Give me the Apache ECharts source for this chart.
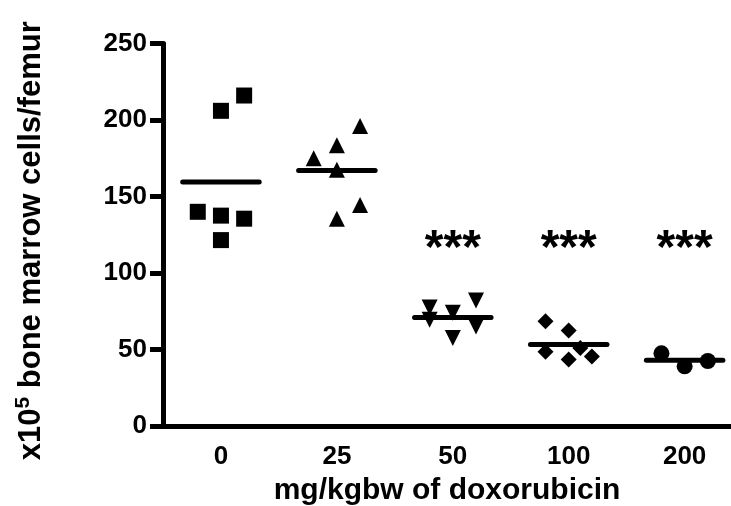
<!DOCTYPE html>
<html lang="en">
<head>
    <meta charset="UTF-8">
    <title>bone marrow cells vs doxorubicin</title>
    <script src="https://cdn.jsdelivr.net/npm/echarts@6/dist/echarts.min.js"></script>
</head>
<body style="margin:0;background:#fff;">
<div id="main" style="width: 731px;height:506px;"></div>
<script type="text/javascript">
    // dose groups (x categories)
    var doses = ['0', '25', '50', '100', '200'];
    var yTicks = [0, 50, 100, 150, 200, 250];

    // x10^5 bone marrow cells per femur
    var cells0 = [216, 206, 140, 137.5, 135.5, 121.5];
    var cells25 = [196, 183.5, 175, 167.5, 144.5, 135.5];
    var cells50 = [77.5, 69.5, 74, 57.5, 82, 65];
    var cells100 = [68.5, 62.5, 48.5, 43.5, 51, 45.5];
    var cells200 = [47.5, 39, 42.5];

    // horizontal scatter of the points inside each group (fraction of a group width)
    var jitter0 = [0.2, 0, -0.2, 0, 0.2, 0];
    var jitter25 = [0.2, 0, -0.2, 0, 0.2, 0];
    var jitter50 = [-0.2, -0.2, 0, 0, 0.2, 0.2];
    var jitter100 = [-0.2, 0, -0.2, 0, 0.1, 0.2];
    var jitter200 = [-0.2, 0, 0.2];

    var signif = ['', '', '***', '***', '***'];
    var signifY = 115;

    var groups = [cells0, cells25, cells50, cells100, cells200];
    var jitters = [jitter0, jitter25, jitter50, jitter100, jitter200];
    var symbols = ['rect', 'triangle', 'triangle', 'diamond', 'circle'];
    var rotates = [0, 0, 180, 0, 0];

    var font = "'Liberation Sans', Arial, sans-serif";

    var myChart = echarts.init(document.getElementById('main'));

    var series = [];
    groups.forEach(function (vals, g) {
        var c = g + 1;
        series.push({
            type: 'scatter',
            symbol: symbols[g],
            symbolRotate: rotates[g],
            symbolSize: 16,
            itemStyle: { color: '#000', opacity: 1 },
            data: vals.map(function (v, i) { return [c + jitters[g][i], v]; }),
            z: 3
        });
        var mean = vals.reduce(function (a, b) { return a + b; }, 0) / vals.length;
        series.push({
            type: 'line',
            symbol: 'none',
            lineStyle: { color: '#000', width: 5, cap: 'round' },
            data: [[c - 0.33, mean], [c + 0.33, mean]],
            z: 4
        });
    });
    // significance marks
    series.push({
        type: 'scatter',
        symbolSize: 1,
        itemStyle: { color: 'rgba(0,0,0,0)', opacity: 1 },
        label: {
            show: true,
            position: 'inside',
            formatter: function (p) { return p.data[2]; },
            color: '#000',
            opacity: 1,
            fontSize: 48,
            fontWeight: 'bold',
            fontFamily: font
        },
        data: signif.map(function (s, i) { return [i + 1, signifY, s]; }).filter(function (d) { return d[2]; })
    });

    var option = {
        animation: false,
        grid: { left: 163, right: 0, top: 43.5, bottom: 80, outerBoundsMode: 'none', containLabel: false },
        xAxis: {
            type: 'value',
            min: 0.5,
            max: 5.4,
            name: 'mg/kgbw of doxorubicin',
            nameLocation: 'middle',
            nameGap: 50,
            nameTextStyle: { color: '#000', fontSize: 30, fontWeight: 'bold', fontFamily: font },
            axisLine: { lineStyle: { color: '#000', width: 5 } },
            axisTick: { show: false },
            splitLine: { show: false },
            axisLabel: {
                customValues: [1, 2, 3, 4, 5],
                formatter: function (v) { return doses[Math.round(v) - 1]; },
                color: '#000', fontSize: 26, fontWeight: 'bold', fontFamily: font, margin: 18
            }
        },
        yAxis: {
            type: 'value',
            min: yTicks[0],
            max: yTicks[yTicks.length - 1],
            interval: 50,
            name: '{a|x10}{s|5}{a| bone marrow cells/femur}',
            nameLocation: 'middle',
            nameGap: 114,
            nameTextStyle: {
                color: '#000',
                padding: [0, 12, 0, 0],
                rich: {
                    a: { fontSize: 31, fontWeight: 'bold', fontFamily: font, color: '#000' },
                    s: { fontSize: 21, fontWeight: 'bold', fontFamily: font, color: '#000', verticalAlign: 'bottom', padding: [0, 0, 15, 0] }
                }
            },
            axisLine: { show: true, lineStyle: { color: '#000', width: 5 } },
            axisTick: { show: true, length: 13, lineStyle: { color: '#000', width: 5 } },
            splitLine: { show: false },
            axisLabel: { color: '#000', fontSize: 26, fontWeight: 'bold', fontFamily: font, margin: 16 }
        },
        series: series
    };

    myChart.setOption(option);
</script>
</body>
</html>
